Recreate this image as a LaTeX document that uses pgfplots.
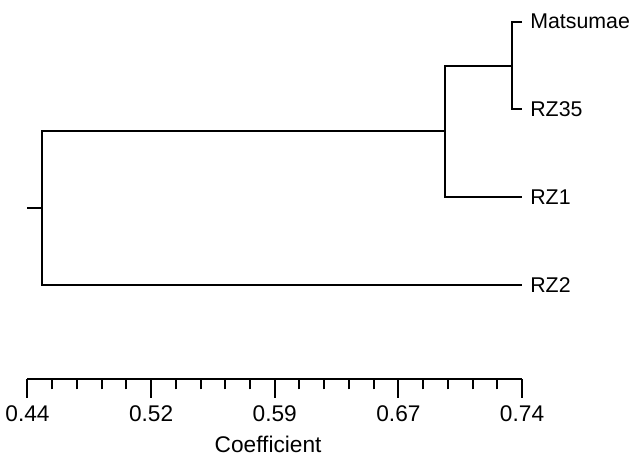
\documentclass[border=0pt]{standalone}
\usepackage{fontspec}
\setmainfont{Liberation Sans}
\usepackage{pgfplots}
\pgfplotsset{compat=1.18}

\begin{document}
\begin{tikzpicture}[font=\fontsize{16}{19}\selectfont]
  % page size: 637 x 457 px at 0.75pt per px
  \path (-20.6pt,-58.3pt) rectangle (457.1pt,284.5pt);
  \begin{axis}[
      at={(0,0)}, anchor=south west,
      width=370.9pt, height=284.5pt, scale only axis,
      xmin=0.44, xmax=0.74,
      ymin=-0.082, ymax=4.248,
      axis x line=bottom, axis y line=none,
      axis line style={line width=1.5pt, -},
      xtick={0.44,0.515,0.59,0.665,0.74},
      xticklabels={0.44,0.52,0.59,0.67,0.74},
      minor x tick num=4,
      tick align=outside,
      major tick length=13.8pt, minor tick length=7.5pt,
      every tick/.style={black, line width=1.5pt},
      /pgf/number format/assume math mode=true,
      xticklabel style={font=\fontsize{17}{20}\selectfont, anchor=base, yshift=-18pt},
      xlabel={Coefficient},
      xlabel style={font=\fontsize{17}{20}\selectfont, at={(axis description cs:0.5,0)},
        anchor=base, yshift=-55pt, xshift=-5pt},
      clip=false,
    ]
    % leaf y positions: Matsumae 4, RZ35 3, RZ1 2, RZ2 1
    \addplot[black, line width=1.5pt, line join=miter] coordinates {(0.74,4) (0.7339,4) (0.7339,3) (0.74,3)};
    \addplot[black, line width=1.5pt, line join=miter] coordinates {(0.7339,3.5) (0.6931,3.5) (0.6931,2) (0.74,2)};
    \addplot[black, line width=1.5pt, line join=miter] coordinates {(0.6931,2.75) (0.449,2.75) (0.449,1) (0.74,1)};
    \addplot[black, line width=1.5pt] coordinates {(0.449,1.875) (0.4395,1.875)};

    \node[anchor=west, inner sep=0pt, xshift=6pt] at (axis cs:0.74,4) {Matsumae};
    \node[anchor=west, inner sep=0pt, xshift=6pt] at (axis cs:0.74,3) {RZ35};
    \node[anchor=west, inner sep=0pt, xshift=6pt] at (axis cs:0.74,2) {RZ1};
    \node[anchor=west, inner sep=0pt, xshift=6pt] at (axis cs:0.74,1) {RZ2};
  \end{axis}
\end{tikzpicture}
\end{document}
